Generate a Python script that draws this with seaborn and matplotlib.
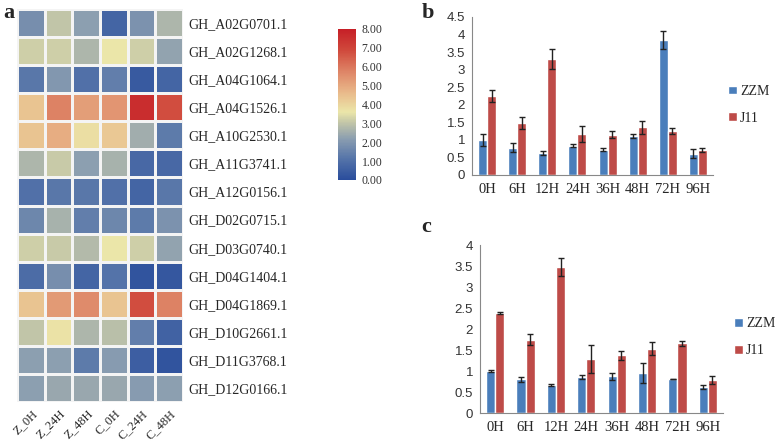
import numpy as np
import pandas as pd
import matplotlib
matplotlib.use("Agg")
import matplotlib.pyplot as plt
import seaborn as sns
from matplotlib.colors import LinearSegmentedColormap

# heatmap data
genes = ["GH_A02G0701.1", "GH_A02G1268.1", "GH_A04G1064.1", "GH_A04G1526.1",
         "GH_A10G2530.1", "GH_A11G3741.1", "GH_A12G0156.1", "GH_D02G0715.1",
         "GH_D03G0740.1", "GH_D04G1404.1", "GH_D04G1869.1", "GH_D10G2661.1",
         "GH_D11G3768.1", "GH_D12G0166.1"]
samples = ["Z_0H", "Z_24H", "Z_48H", "C_0H", "C_24H", "C_48H"]
expr = [
    [1.8, 3.0, 2.2, 0.7, 1.9, 2.7],
    [3.2, 3.2, 2.7, 3.6, 3.2, 2.3],
    [1.2, 2.0, 1.0, 1.4, 0.4, 0.7],
    [4.4, 5.8, 5.2, 5.4, 7.6, 6.8],
    [4.4, 4.9, 3.8, 4.3, 2.5, 1.3],
    [2.7, 3.1, 2.2, 2.6, 0.8, 0.8],
    [1.0, 1.2, 1.2, 1.0, 0.7, 1.2],
    [1.6, 2.6, 1.4, 1.6, 1.3, 1.9],
    [3.2, 3.1, 2.8, 3.6, 3.2, 2.3],
    [0.9, 1.8, 0.7, 1.1, 0.2, 0.3],
    [4.4, 5.3, 5.6, 4.4, 6.8, 5.8],
    [3.0, 3.7, 2.7, 2.9, 1.4, 0.6],
    [2.2, 2.2, 1.3, 2.1, 0.5, 0.2],
    [2.2, 2.4, 2.4, 2.4, 2.1, 2.2],
]

# bar chart data
times = ["0H", "6H", "12H", "24H", "36H", "48H", "72H", "96H"]
b_zzm = [1.00, 0.78, 0.63, 0.83, 0.72, 1.12, 3.85, 0.60]
b_zzm_err = [0.18, 0.13, 0.06, 0.04, 0.04, 0.06, 0.25, 0.13]
b_j11 = [2.24, 1.48, 3.30, 1.17, 1.15, 1.36, 1.25, 0.71]
b_j11_err = [0.17, 0.17, 0.29, 0.23, 0.11, 0.18, 0.08, 0.06]
c_zzm = [1.00, 0.80, 0.66, 0.86, 0.87, 0.95, 0.81, 0.61]
c_zzm_err = [0.03, 0.05, 0.02, 0.04, 0.09, 0.24, 0.01, 0.05]
c_j11 = [2.38, 1.74, 3.47, 1.29, 1.37, 1.53, 1.66, 0.78]
c_j11_err = [0.03, 0.13, 0.21, 0.34, 0.11, 0.15, 0.06, 0.09]

SERIF = ["Liberation Serif", "DejaVu Serif"]
SANS = ["Liberation Sans", "DejaVu Sans"]
BLUE = "#4a7ebb"
RED = "#be4b48"

cmap = LinearSegmentedColormap.from_list("hm", [
    (0.0, "#2a4d9c"), (0.14, "#5574a9"), (0.27, "#8a9db0"),
    (0.38, "#c3c6a8"), (0.45, "#ebe6a9"), (0.58, "#e9b98a"),
    (0.72, "#de8466"), (0.86, "#d0493c"), (1.0, "#c61f27")])


def draw_bars(ax, zzm, zzm_err, j11, j11_err, ymax, step, leg_xy):
    df = pd.DataFrame({
        "time": times * 2,
        "value": zzm + j11,
        "group": ["ZZM"] * len(times) + ["J11"] * len(times),
    })
    sns.barplot(data=df, x="time", y="value", hue="group", order=times,
                hue_order=["ZZM", "J11"], palette=[BLUE, RED], width=0.6,
                errorbar=None, saturation=1, ax=ax)
    errs = zzm_err + j11_err
    for patch, v, e in zip(ax.patches, zzm + j11, errs):
        cx = patch.get_x() + patch.get_width() / 2
        ax.errorbar(cx, v, yerr=e, color="#222222", capsize=2.5, lw=1, capthick=1)
    ax.set_xlim(-0.5, len(times) - 0.5)
    ax.set_ylim(0, ymax)
    yt = np.arange(0, ymax + 0.01, step)
    ax.set_yticks(yt)
    ax.set_yticklabels([f"{t:g}" for t in yt], family=SANS, fontsize=9.5,
                       color="#333333")
    ax.set_xticks(range(len(times)))
    ax.set_xticklabels(times, family=SERIF, fontsize=10.5)
    ax.set_xticks(np.arange(-0.5, len(times)), minor=True)
    ax.tick_params(axis="x", which="major", length=0, pad=6)
    ax.tick_params(axis="x", which="minor", length=4, color="#888888")
    ax.tick_params(axis="y", length=3, color="#888888", pad=2)
    ax.set_xlabel("")
    ax.set_ylabel("")
    for s in ["top", "right"]:
        ax.spines[s].set_visible(False)
    for s in ["left", "bottom"]:
        ax.spines[s].set_color("#888888")
        ax.spines[s].set_linewidth(0.8)
    ax.legend(loc="upper left", bbox_to_anchor=leg_xy,
              bbox_transform=ax.figure.transFigure, frameon=False,
              borderaxespad=0, borderpad=0,
              prop={"family": SERIF, "size": 10}, handlelength=0.6,
              handleheight=0.6, handletextpad=0.25, labelspacing=1.0)


def main():
    sns.set_style("white")
    fig = plt.figure(figsize=(7.78, 4.42), dpi=100)

    ax_h = fig.add_axes([0.022, 0.0905, 0.2134, 0.889])
    ax_cb = fig.add_axes([0.4344, 0.5928, 0.0231, 0.3416])
    hm = pd.DataFrame(expr, index=genes, columns=samples)
    sns.heatmap(hm, cmap=cmap, vmin=0, vmax=8, linewidths=1, linecolor="#f4f4f4",
                cbar_ax=ax_cb, ax=ax_h)
    ax_h.yaxis.tick_right()
    ax_h.set_yticklabels(genes, rotation=0, family=SERIF, fontsize=10)
    ax_h.set_xticklabels(samples, rotation=45, ha="right", rotation_mode="anchor",
                         family=SERIF, fontsize=9)
    ax_h.tick_params(length=0, pad=4)
    ax_h.tick_params(axis="y", pad=4)
    ax_cb.set_yticks(range(0, 9))
    ax_cb.set_yticklabels([f"{t:.2f}" for t in range(0, 9)], family=SERIF,
                          fontsize=8.5, color="#333333")
    ax_cb.tick_params(length=0, pad=4)

    ax_b = fig.add_axes([0.6067, 0.6041, 0.3098, 0.3575])
    draw_bars(ax_b, b_zzm, b_zzm_err, b_j11, b_j11_err, 4.5, 0.5, (0.936, 0.808))
    ax_c = fig.add_axes([0.617, 0.0656, 0.3123, 0.380])
    draw_bars(ax_c, c_zzm, c_zzm_err, c_j11, c_j11_err, 4.0, 0.5, (0.944, 0.282))

    for lab, x, y in [("a", 0.004, 0.960), ("b", 0.542, 0.960), ("c", 0.541, 0.476)]:
        fig.text(x, y, lab, family=SERIF, fontsize=16, fontweight="bold",
                 va="baseline", ha="left")

    fig.savefig("out.png", dpi=100)


if __name__ == "__main__":
    main()
